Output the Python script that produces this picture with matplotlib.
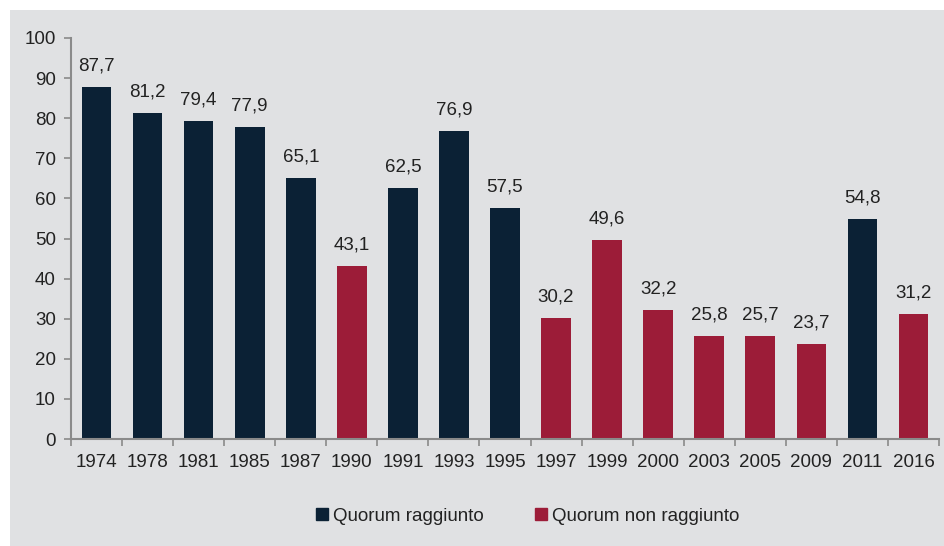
import matplotlib
matplotlib.use("Agg")
import matplotlib.pyplot as plt
from matplotlib.patches import Rectangle
from matplotlib.lines import Line2D

years = ["1974", "1978", "1981", "1985", "1987", "1990", "1991", "1993", "1995",
         "1997", "1999", "2000", "2003", "2005", "2009", "2011", "2016"]
turnout = [87.7, 81.2, 79.4, 77.9, 65.1, 43.1, 62.5, 76.9, 57.5,
           30.2, 49.6, 32.2, 25.8, 25.7, 23.7, 54.8, 31.2]
quorum_reached = [True, True, True, True, True, False, True, True, True,
                  False, False, False, False, False, False, True, False]
legend_labels = ["Quorum raggiunto", "Quorum non raggiunto"]

NAVY = "#0b2135"
RED = "#9c1c38"
BG = "#e0e1e3"
AXIS = "#8a8a8a"
TEXT = "#222222"
FS = 13.5

plt.rcParams['font.family'] = ['Liberation Sans', 'DejaVu Sans']

W, H = 944, 546
fig = plt.figure(figsize=(W / 100, H / 100), dpi=100, facecolor="white")
fig.patches.append(Rectangle((10 / W, 0), 1 - 10 / W, 1 - 10 / H,
                             transform=fig.transFigure, facecolor=BG,
                             edgecolor="none", zorder=-10))

ax = fig.add_axes([71 / W, 1 - 439 / H, (939 - 71) / W, (439 - 38) / H])
ax.set_facecolor("none")

x = list(range(len(years)))
colors = [NAVY if q else RED for q in quorum_reached]
ax.bar(x, turnout, width=0.58, color=colors, zorder=2)

for xi, v in zip(x, turnout):
    ax.annotate(f"{v:.1f}".replace(".", ","), (xi, v), xytext=(0, 9),
                textcoords="offset points", ha="center", va="bottom",
                fontsize=FS, color=TEXT)

ax.set_xlim(-0.5, len(years) - 0.5)
ax.set_ylim(0, 100)
ax.set_yticks(range(0, 101, 10))
ax.tick_params(axis="y", direction="out", length=5, color=AXIS, width=1.2,
               labelsize=FS, labelcolor=TEXT, pad=6)
ax.set_xticks([i - 0.5 for i in range(len(years) + 1)])
ax.set_xticklabels([])
ax.set_xticks(x, minor=True)
ax.set_xticklabels(years, minor=True)
ax.tick_params(axis="x", which="major", direction="out", length=5, color=AXIS, width=1.2)
ax.tick_params(axis="x", which="minor", length=0, labelsize=FS,
               labelcolor=TEXT, pad=11)

for s in ["top", "right"]:
    ax.spines[s].set_visible(False)
for s in ["left", "bottom"]:
    ax.spines[s].set_color(AXIS)
    ax.spines[s].set_linewidth(1.5)

handles = [Line2D([], [], marker="s", linestyle="none", markersize=8,
                  markerfacecolor=c, markeredgecolor=c) for c in (NAVY, RED)]
fig.legend(handles, legend_labels, loc="center", bbox_to_anchor=(526 / W, 1 - 516 / H),
           ncol=2, frameon=False, fontsize=FS, handletextpad=0.05,
           columnspacing=2.6, handlelength=1.0, labelcolor=TEXT)

fig.savefig("out.png", dpi=100, facecolor="white")
